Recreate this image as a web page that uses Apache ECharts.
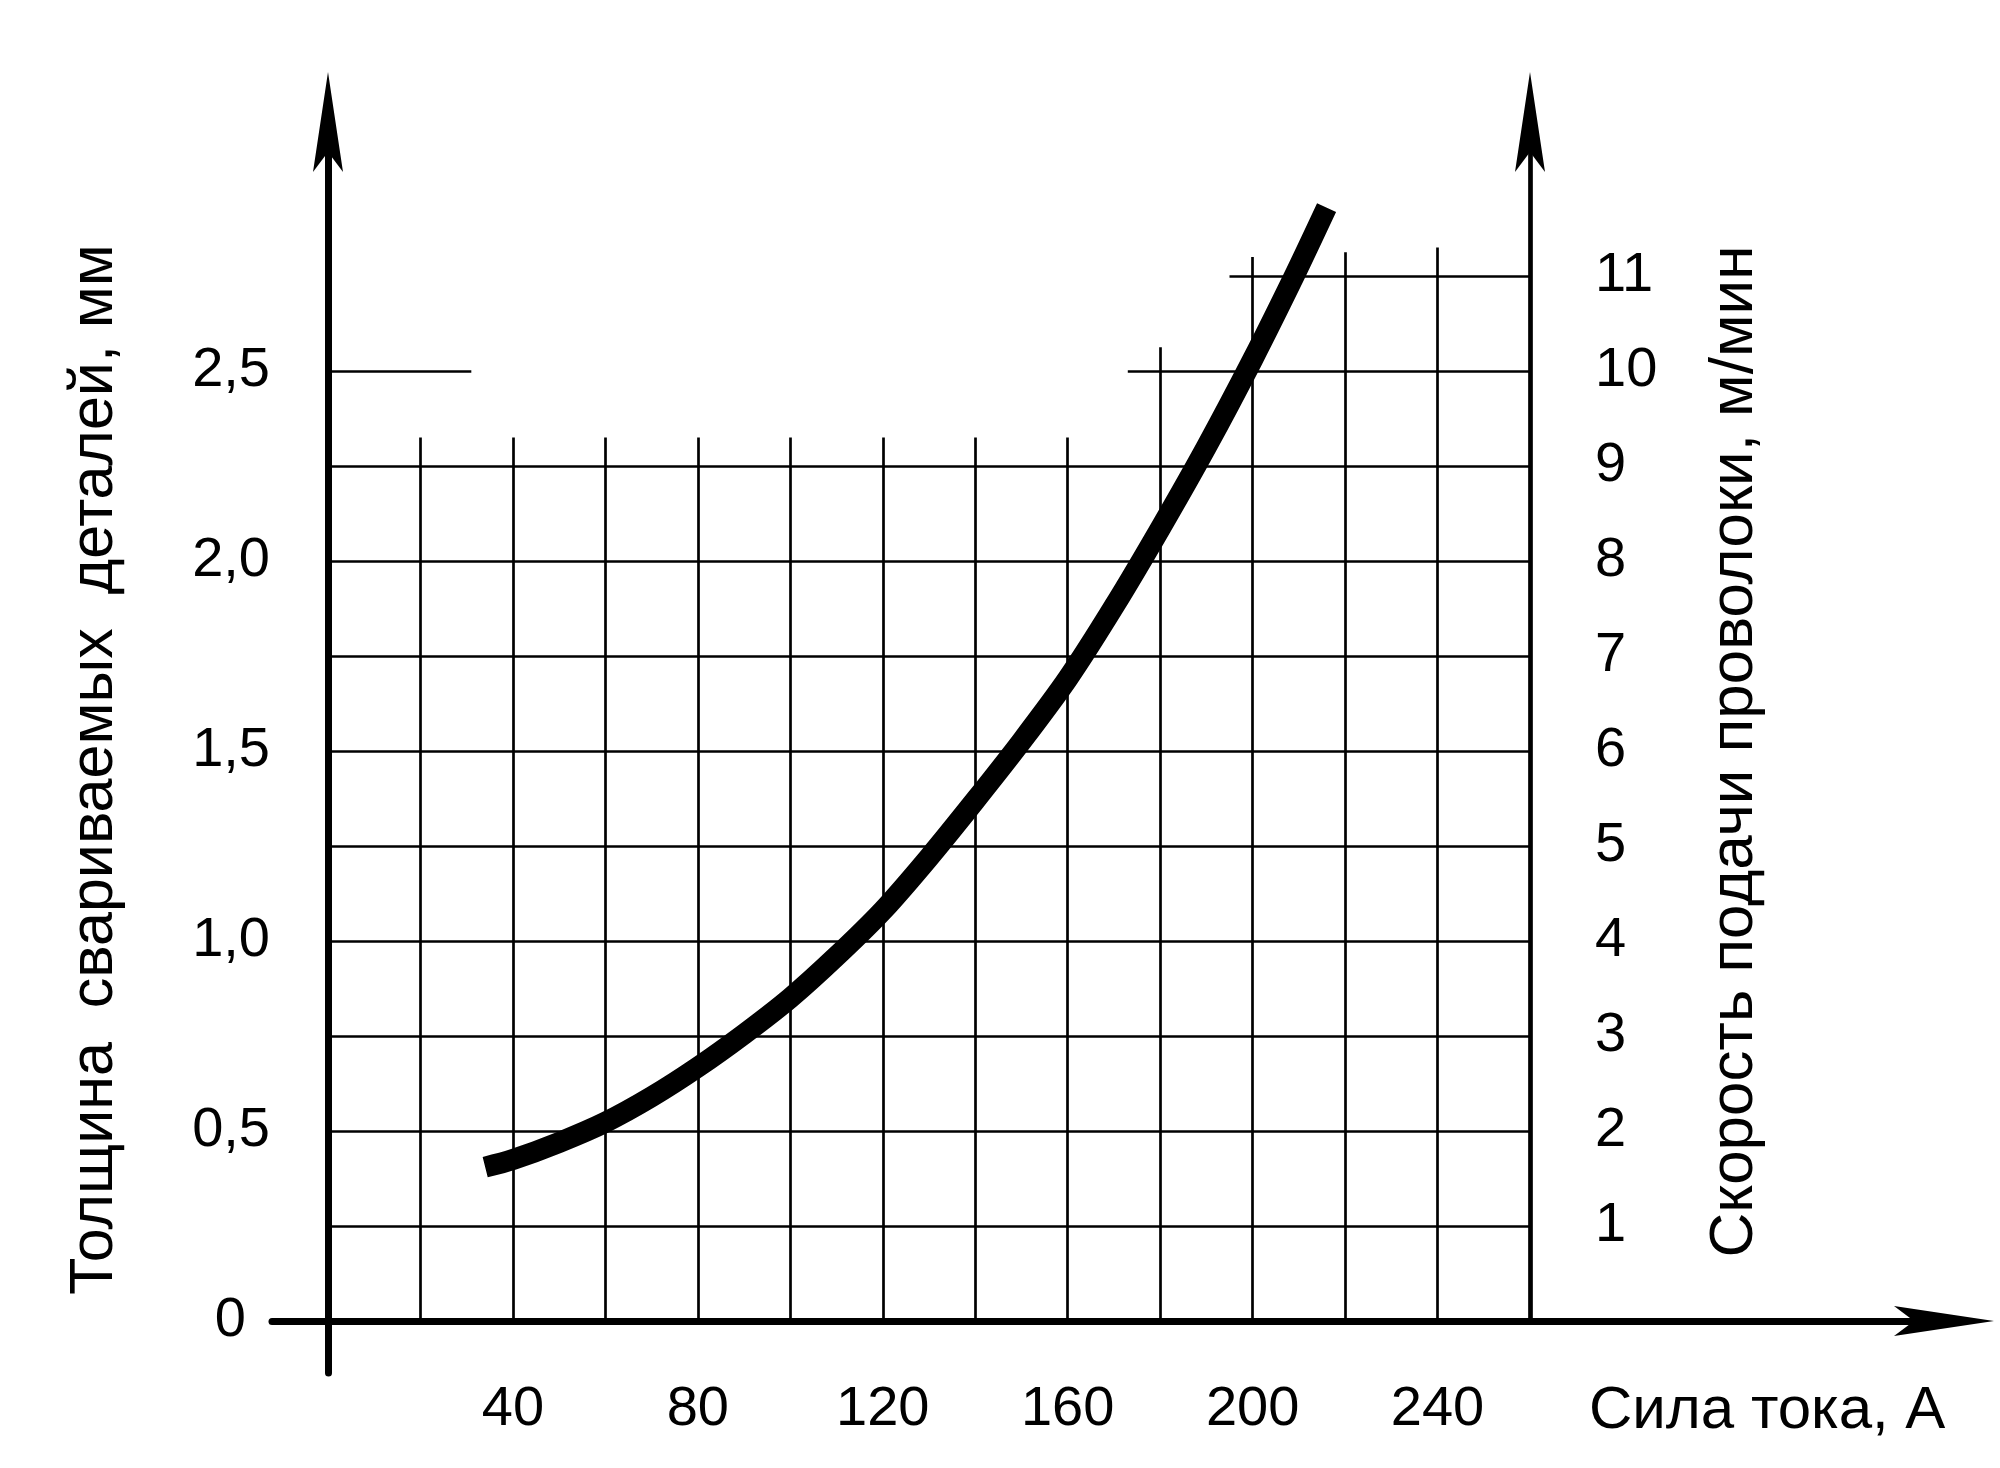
<!DOCTYPE html>
<html>
<head>
<meta charset="utf-8">
<title>Толщина и скорость подачи проволоки</title>
<script src="https://cdn.jsdelivr.net/npm/echarts@6/dist/echarts.min.js"></script>
<style>
  html, body { margin: 0; padding: 0; background: #fff; }
  #chart { width: 2000px; height: 1468px; }
</style>
</head>
<body>
<div id="chart"></div>
<script>
// curve: current, A -> thickness of welded parts, mm
const currentA = [34, 40, 50, 60, 70, 80, 90, 100, 110, 120, 130, 140, 150, 160, 170, 180, 190, 200, 209, 216];
const thicknessMm = [0.405, 0.425, 0.47, 0.523, 0.59, 0.668, 0.755, 0.85, 0.96, 1.08, 1.22, 1.37, 1.525, 1.69, 1.88, 2.085, 2.3, 2.53, 2.75, 2.93];

// tick labels
const xTicks = [40, 80, 120, 160, 200, 240];
const leftTicks = [0, 0.5, 1, 1.5, 2, 2.5];
const rightTicks = [1, 2, 3, 4, 5, 6, 7, 8, 9, 10, 11];

// grid: vertical lines (A) and how high they go (right axis units, m/min)
const vGridX = [20, 40, 60, 80, 100, 120, 140, 160, 180, 200, 220, 240];
const vGridTop = [9.3, 9.3, 9.3, 9.3, 9.3, 9.3, 9.3, 9.3, 10.25, 11.2, 11.25, 11.3];
// horizontal lines: [level m/min, from A, to A]
const hGrid = [
  [1, 0, 260], [2, 0, 260], [3, 0, 260], [4, 0, 260], [5, 0, 260],
  [6, 0, 260], [7, 0, 260], [8, 0, 260], [9, 0, 260],
  [10, 0, 31], [10, 173, 260], [11, 195, 260]
];

const X_MAX = 260;
const SPEED_PER_MM = 4;

// layout in pixels
const W = 2000, H = 1468;
const ox = 328, oy = 1321;          // origin
const xEnd = 1530;                  // right axis (260 A)
const pxPerMm = 380;
const topEnd = 122;                 // vertical axes end (arrow centre)
const leftStart = 272;              // x axis starts left of origin
const rightEnd = 1944;              // x axis end (arrow centre)
const bottomEnd = 1373;             // left axis goes below origin

const pxPerA = (xEnd - ox) / X_MAX;
const yMax = (oy - topEnd) / pxPerMm;

const font = '"Liberation Sans", Arial, sans-serif';
const arrow = 'path://M15,0 L30,100 L15,80 L0,100 Z';

const gridLines = [];
vGridX.forEach((x, i) => gridLines.push({ coords: [[x, 0], [x, vGridTop[i]]] }));
hGrid.forEach(h => gridLines.push({ coords: [[h[1], h[0]], [h[2], h[0]]] }));

const fmtComma = v => String(v % 1 === 0 ? v.toFixed(1) : v).replace('.', ',');

const chart = echarts.init(document.getElementById('chart'));
chart.setOption({
  backgroundColor: '#fff',
  animation: false,
  title: {
    text: 'Сила тока, А',
    left: 1584,
    top: 1376,
    textStyle: { fontFamily: font, fontSize: 60, fontWeight: 'normal', color: '#000' }
  },
  grid: [
    { left: leftStart, right: W - rightEnd, top: topEnd, bottom: H - bottomEnd },
    { left: ox, right: W - xEnd, top: topEnd, bottom: H - oy }
  ],
  xAxis: [
    {
      type: 'value', gridIndex: 0,
      min: -(ox - leftStart) / pxPerA, max: (rightEnd - ox) / pxPerA,
      axisLine: { onZero: true, symbol: ['none', arrow], symbolSize: [30, 100], lineStyle: { color: '#000', width: 7 } },
      axisTick: { show: false }, axisLabel: { show: false }, splitLine: { show: false }
    },
    {
      type: 'value', gridIndex: 1, min: 0, max: X_MAX, interval: 20,
      axisLine: { show: false }, axisTick: { show: false }, splitLine: { show: false },
      axisLabel: {
        margin: 61, color: '#000', fontFamily: font, fontSize: 56,
        formatter: v => xTicks.indexOf(v) >= 0 ? String(v) : ''
      }
    }
  ],
  yAxis: [
    {
      type: 'value', gridIndex: 0,
      min: -(bottomEnd - oy) / pxPerMm, max: yMax,
      axisLine: { onZero: true, symbol: ['none', arrow], symbolSize: [30, 100], lineStyle: { color: '#000', width: 7 } },
      axisTick: { show: false }, axisLabel: { show: false }, splitLine: { show: false }
    },
    {
      type: 'value', gridIndex: 1, position: 'left', min: 0, max: yMax, interval: 0.5,
      name: 'Толщина  свариваемых  деталей, мм',
      nameLocation: 'middle', nameRotate: 90, nameGap: 202,
      nameTextStyle: { fontFamily: font, fontSize: 61, color: '#000', padding: [0, 96, 0, 0] },
      axisLine: { show: false }, axisTick: { show: false }, splitLine: { show: false },
      axisLabel: {
        margin: 58, color: '#000', fontFamily: font, fontSize: 56,
        formatter: v => {
          if (leftTicks.indexOf(v) < 0) return '';
          return v === 0 ? '{z|0}' : fmtComma(v);
        },
        rich: { z: { fontFamily: font, fontSize: 56, color: '#000', padding: [0, 24, 0, 0] } }
      }
    },
    {
      type: 'value', gridIndex: 1, position: 'right', min: 0, max: yMax * SPEED_PER_MM, interval: 1,
      name: 'Скорость подачи проволоки, м/мин',
      nameLocation: 'middle', nameRotate: 90, nameGap: 174,
      nameTextStyle: { fontFamily: font, fontSize: 62, color: '#000', padding: [0, 60, 0, 0] },
      axisLine: { show: true, symbol: ['none', arrow], symbolSize: [30, 100], lineStyle: { color: '#000', width: 4.7 } },
      axisTick: { show: false }, splitLine: { show: false },
      axisLabel: {
        margin: 65, color: '#000', fontFamily: font, fontSize: 56,
        formatter: v => rightTicks.indexOf(v) >= 0 ? String(v) : ''
      }
    }
  ],
  series: [
    {
      type: 'lines', coordinateSystem: 'cartesian2d', xAxisIndex: 1, yAxisIndex: 2,
      silent: true, z: 1,
      lineStyle: { color: '#000', width: 2.7, opacity: 1 },
      data: gridLines
    },
    {
      type: 'line', xAxisIndex: 1, yAxisIndex: 1, z: 5,
      data: currentA.map((a, i) => [a, thicknessMm[i]]),
      smooth: 0.3, showSymbol: false, symbol: 'none',
      lineStyle: { color: '#000', width: 21, cap: 'butt' }
    }
  ]
});
</script>
</body>
</html>
